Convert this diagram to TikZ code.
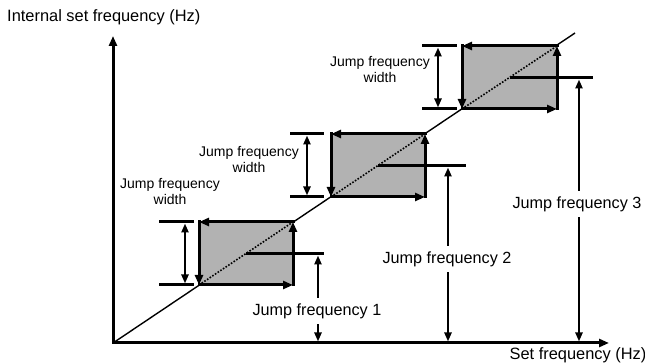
\documentclass[tikz,border=0pt]{standalone}
\usepackage{fontspec}
\setmainfont{Liberation Sans}
\usetikzlibrary{arrows.meta}
\tikzset{
  tipA/.tip={Triangle[length=10pt,width=8pt]},
  tipB/.tip={Triangle[length=9pt,width=7pt]},
  axisline/.style={line width=3pt, line join=miter, tipA-tipA},
  boxedge/.style={line width=3pt, line cap=rect, -tipA},
  boxfill/.style={fill=black!30, draw=none},
  diagline/.style={line width=1.4pt},
  dotline/.style={line width=1.6pt, dash pattern=on 1.6pt off 1.6pt},
  tickline/.style={line width=3pt},
  levelline/.style={line width=3pt},
  dimarrow/.style={line width=2.5pt, tipB-tipB},
  jumplabel/.style={font=\fontsize{16.2}{19}\selectfont, fill=white, inner xsep=2pt, inner ysep=5pt},
  widthlabel/.style={font=\fontsize{14}{16}\selectfont, align=center, inner sep=0pt},
  axislabel/.style={font=\fontsize{16.4}{19}\selectfont, inner sep=0pt}
}
\begin{document}
\begin{tikzpicture}[x=1pt,y=1pt]
\useasboundingbox (0,0) rectangle (645,363);
% axes
\coordinate (o) at (113,20);
\coordinate (yt) at (113,327);
\coordinate (xt) at (609,20);
\coordinate (e) at (575,330);
\draw[diagline] (o) -- (e);
% boxes corners
\coordinate (a1) at (199,78);  \coordinate (b1) at (293,78);
\coordinate (c1) at (293,141); \coordinate (d1) at (199,141);
\coordinate (a2) at (331,166); \coordinate (b2) at (425,166);
\coordinate (c2) at (425,229); \coordinate (d2) at (331,229);
\coordinate (a3) at (462,254); \coordinate (b3) at (557,254);
\coordinate (c3) at (557,317); \coordinate (d3) at (462,317);
\foreach \i in {1,2,3}{
  \fill[boxfill] (a\i) rectangle (c\i);
  \draw[dotline] (a\i) -- (c\i);
}
\foreach \i in {1,2,3}{
  \draw[boxedge] (d\i) -- (a\i);
  \draw[boxedge] (a\i) -- (b\i);
  \draw[boxedge] (b\i) -- (c\i);
  \draw[boxedge] (c\i) -- (d\i);
}
\draw[axisline] (yt) -- (o) -- (xt);
% level lines
\coordinate (m1) at (246,109.5); \coordinate (n1) at (324,109.5);
\coordinate (m2) at (378,197.5); \coordinate (n2) at (466,197.5);
\coordinate (m3) at (509.5,285.5); \coordinate (n3) at (593,285.5);
\draw[levelline] (m1) -- (n1);
\draw[levelline] (m2) -- (n2);
\draw[levelline] (m3) -- (n3);
% jump frequency arrows
\coordinate (f1b) at (318,21.5); \coordinate (f1t) at (318,107.5);
\coordinate (f2b) at (448,21.5); \coordinate (f2t) at (448,195.5);
\coordinate (f3b) at (579,21.5); \coordinate (f3t) at (579,283.5);
\draw[dimarrow] (f1b) -- (f1t);
\draw[dimarrow] (f2b) -- (f2t);
\draw[dimarrow] (f3b) -- (f3t);
\node[jumplabel] (j1) at (317,52) {Jump frequency 1};
\node[jumplabel] (j2) at (447,104) {Jump frequency 2};
\node[jumplabel] (j3) at (577,159) {Jump frequency 3};
% width ticks and arrows
\coordinate (t1a) at (159,141); \coordinate (t1b) at (194,141);
\coordinate (t1c) at (159,78);  \coordinate (t1d) at (194,78);
\coordinate (t2a) at (290,229); \coordinate (t2b) at (324,229);
\coordinate (t2c) at (290,166); \coordinate (t2d) at (324,166);
\coordinate (t3a) at (422,317); \coordinate (t3b) at (457,317);
\coordinate (t3c) at (422,254); \coordinate (t3d) at (457,254);
\foreach \i in {1,2,3}{
  \draw[tickline] (t\i a) -- (t\i b);
  \draw[tickline] (t\i c) -- (t\i d);
}
\coordinate (w1t) at (185,139.5); \coordinate (w1b) at (185,79.5);
\coordinate (w2t) at (307,227.5); \coordinate (w2b) at (307,167.5);
\coordinate (w3t) at (438,315.5); \coordinate (w3b) at (438,255.5);
\draw[dimarrow] (w1b) -- (w1t);
\draw[dimarrow] (w2b) -- (w2t);
\draw[dimarrow] (w3b) -- (w3t);
\node[widthlabel] (l1) at (170,171) {Jump frequency\\width};
\node[widthlabel] (l2) at (249,203) {Jump frequency\\width};
\node[widthlabel] (l3) at (380,293.5) {Jump frequency\\width};
% axis labels
\node[axislabel, anchor=base west] (ylab) at (7,341) {Internal set frequency (Hz)};
\node[axislabel, anchor=base] (xlab) at (578,3.8) {Set frequency (Hz)};
\end{tikzpicture}
\end{document}
